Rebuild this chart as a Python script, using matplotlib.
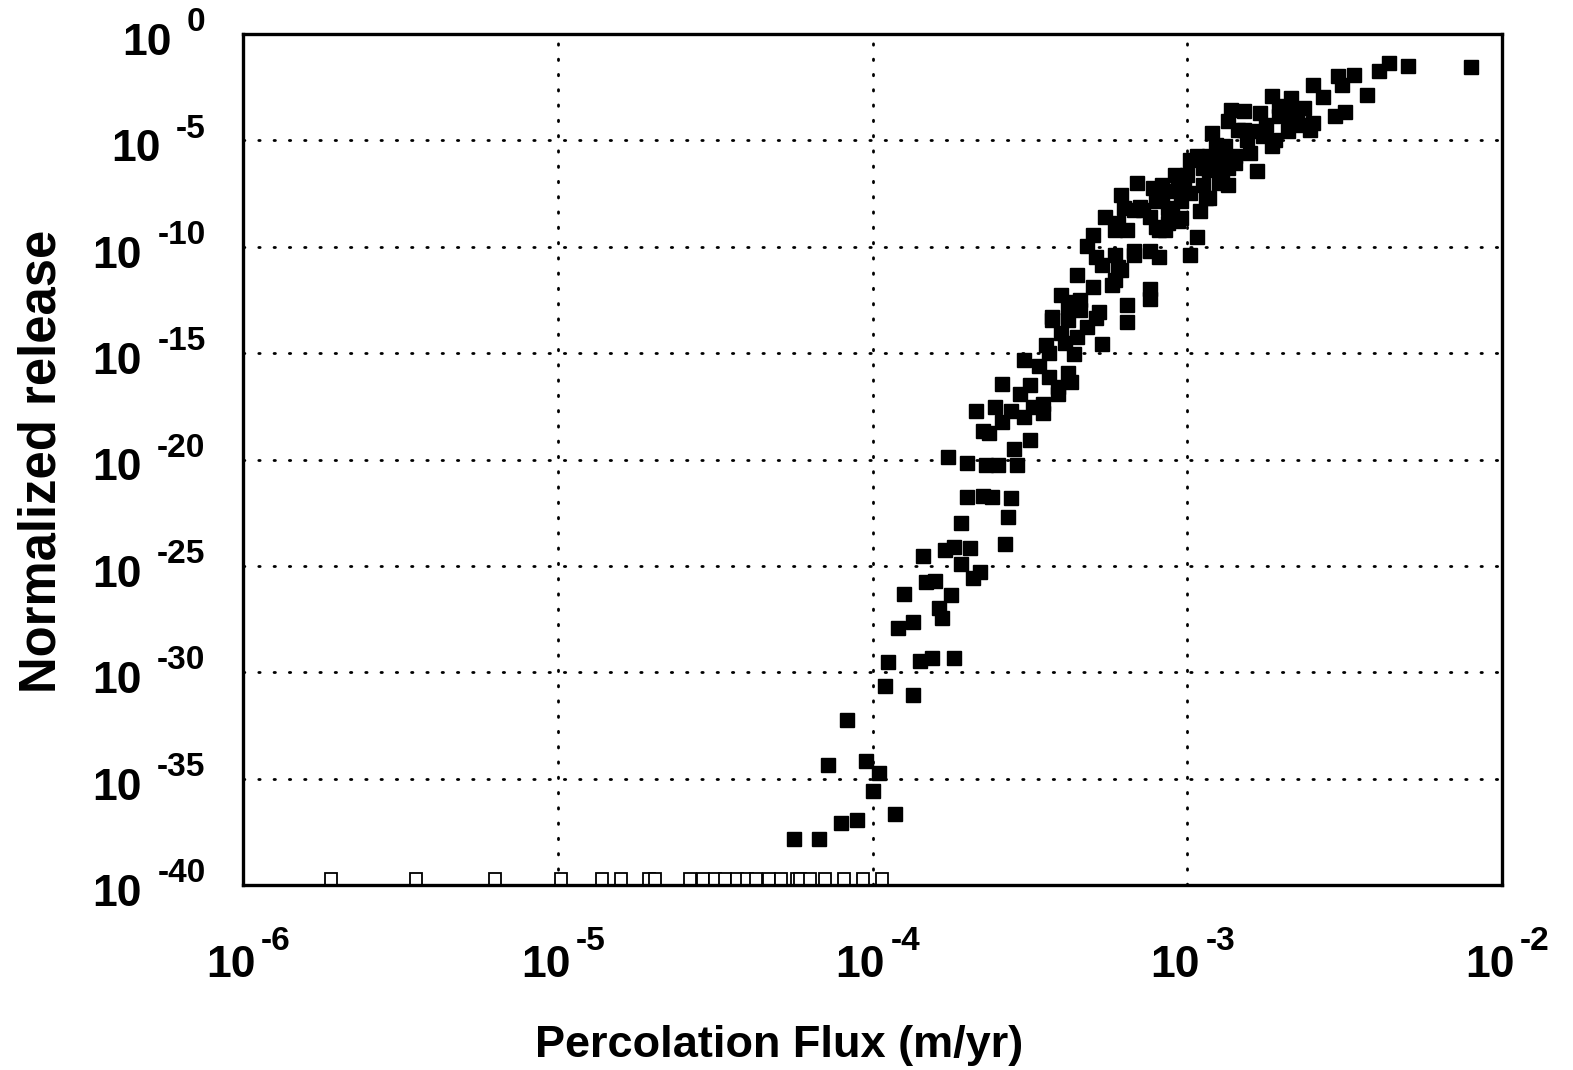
import matplotlib
matplotlib.use("Agg")
import matplotlib.pyplot as plt
import numpy as np

# values, as log10
# filled squares: runs with a release
flux_log = [
    -4.25, -4.17, -4.10, -4.05, -3.93, -4.00, -3.98, -4.02, -4.14, -4.08,
    -3.96, -3.87, -3.95, -3.85, -3.81, -3.74, -3.92, -3.87, -3.79, -3.78,
    -3.90, -3.75, -3.83, -3.80, -3.68, -3.66, -3.72, -3.84, -3.77, -3.74,
    -3.69, -3.58, -3.72, -3.57, -3.70, -3.65, -3.62, -3.56, -3.76, -3.70,
    -3.64, -3.60, -3.54, -3.55, -3.50, -3.65, -3.63, -3.59, -3.52, -3.67,
    -3.61, -3.56, -3.46, -3.49, -3.46, -3.59, -3.50, -3.53, -3.44, -3.38,
    -3.37, -3.41, -3.41, -3.52, -3.47, -3.36, -3.44, -3.45, -3.39, -3.40,
    -3.35, -3.43, -3.32, -3.27, -3.19, -3.29, -3.19, -3.28, -3.34, -3.38,
    -3.34, -3.36, -3.40, -3.30, -3.24, -3.35, -3.21, -3.29, -3.23, -3.17,
    -3.43, -3.12, -3.12, -3.23, -3.32, -3.22, -3.17, -3.12, -3.09, -3.26,
    -3.22, -3.23, -3.19, -3.10, -3.20, -3.15, -3.12, -3.10, -3.16, -3.11,
    -2.97, -2.99, -3.08, -3.06, -3.03, -3.07, -3.14, -3.04, -3.01, -2.94,
    -2.96, -2.95, -3.00, -3.04, -2.95, -2.89, -2.87, -2.91, -2.97, -2.85,
    -2.80, -2.78, -2.73, -2.92, -2.87, -2.82, -2.76, -2.72, -2.68, -2.65,
    -2.73, -2.82, -2.77, -2.71, -2.84, -2.88, -2.87, -2.93, -3.03, -2.90,
    -2.99, -2.93, -3.02, -3.05, -3.02, -3.06, -3.09, -3.17, -2.10, -2.30,
    -2.36, -2.39, -2.47, -2.52, -2.51, -2.43, -2.60, -2.57, -2.53, -2.50,
    -2.67, -2.69, -2.67, -2.61, -2.64, -2.78, -2.89, -2.85, -2.93, -2.63,
    -2.71, -2.60, -3.08, -2.99, -2.91, -2.81, -3.21, -3.30, -3.27, -3.38,
    -2.86, -2.75, -2.65,
]
release_log = [
    -37.83, -37.83, -37.09, -36.93, -36.65, -35.59, -34.74, -34.18, -34.35, -32.23,
    -30.65, -31.08, -29.52, -29.48, -29.33, -29.33, -27.90, -27.66, -27.00, -27.43,
    -26.30, -26.38, -25.78, -25.72, -25.55, -25.28, -24.89, -24.54, -24.26, -24.11,
    -24.17, -23.98, -23.00, -22.71, -21.75, -21.72, -21.75, -21.83, -19.87, -20.18,
    -20.24, -20.24, -20.24, -19.51, -19.10, -18.66, -18.76, -18.22, -17.99, -17.74,
    -17.52, -17.70, -17.39, -17.53, -17.83, -16.45, -16.50, -16.90, -16.11, -15.95,
    -16.36, -16.58, -16.92, -15.32, -15.59, -15.04, -14.97, -14.61, -14.53, -14.06,
    -14.25, -13.45, -13.75, -14.55, -13.52, -13.36, -12.73, -13.05, -12.97, -12.85,
    -12.50, -12.58, -12.26, -11.87, -11.79, -11.34, -11.08, -10.46, -10.38, -10.38,
    -13.28, -11.98, -12.45, -11.56, -9.96, -10.93, -10.22, -10.22, -10.46, -8.60,
    -8.89, -9.20, -9.20, -9.05, -8.18, -8.11, -8.58, -7.87, -7.00, -7.24,
    -9.52, -10.38, -7.71, -8.18, -8.81, -9.20, -8.26, -7.40, -7.24, -7.71,
    -8.34, -7.08, -6.61, -6.61, -6.30, -6.61, -7.08, -5.99, -5.75, -5.75,
    -5.59, -6.43, -5.28, -4.65, -4.11, -4.50, -4.81, -4.97, -4.58, -4.18,
    -2.93, -3.64, -3.71, -3.87, -4.50, -5.28, -6.30, -6.38, -6.77, -7.00,
    -7.48, -7.71, -7.87, -8.26, -8.65, -8.89, -9.20, -8.26, -1.55, -1.50,
    -1.34, -1.75, -1.91, -1.96, -2.38, -2.85, -2.38, -2.94, -3.83, -3.67,
    -3.00, -3.56, -4.03, -4.50, -4.26, -4.58, -5.59, -6.06, -5.75, -3.48,
    -3.40, -4.18, -7.08, -5.91, -5.20, -4.97, -7.56, -9.44, -10.85, -13.44,
    -3.56, -4.26, -3.56,
]

# open squares: runs with no release, drawn at the bottom of the scale
zero_flux_log = [
    -5.72, -5.45, -5.20, -4.99, -4.86, -4.80, -4.71, -4.69, -4.58, -4.54,
    -4.50, -4.47, -4.43, -4.40, -4.37, -4.33, -4.29, -4.24, -4.23, -4.20,
    -4.15, -4.09, -4.03, -3.97,
]
zero_release_log = -39.7

x_exps = [-6, -5, -4, -3, -2]
y_exps = [0, -5, -10, -15, -20, -25, -30, -35, -40]

plt.rcParams["font.family"] = ["Liberation Sans", "DejaVu Sans"]
plt.rcParams["font.weight"] = "bold"

fig = plt.figure(figsize=(15.73, 10.70), dpi=100)
ax = fig.add_axes([0.1545, 0.1729, 0.8004, 0.7953])

x = 10.0 ** np.array(flux_log)
y = 10.0 ** np.array(release_log)
ax.plot(x, y, "s", color="black", markersize=9.5, linestyle="none",
        zorder=3)
zx = 10.0 ** np.array(zero_flux_log)
zy = np.full(len(zx), 10.0 ** zero_release_log)
ax.plot(zx, zy, "s", markerfacecolor="white", markeredgecolor="black",
        markeredgewidth=1.3, markersize=8.8, linestyle="none", zorder=4,
        clip_on=False)

ax.set_xscale("log")
ax.set_yscale("log")
ax.set_xlim(10.0 ** x_exps[0], 10.0 ** x_exps[-1])
ax.set_ylim(10.0 ** y_exps[-1], 10.0 ** y_exps[0])
ax.set_xticks([10.0 ** e for e in x_exps])
ax.set_yticks([10.0 ** e for e in y_exps])
ax.minorticks_off()
ax.tick_params(axis="both", length=0, labelbottom=False, labelleft=False)

# tick labels drawn as "10" plus a small raised exponent, like the original
for e in y_exps:
    exp_txt = ax.annotate("%d" % e, xy=(0, 10.0 ** e),
                          xycoords=("axes fraction", "data"),
                          xytext=(-27, 2), textcoords="offset points",
                          ha="right", va="baseline", fontsize=24,
                          annotation_clip=False)
    ax.annotate("10", xy=(0, 0), xycoords=exp_txt, xytext=(-11, -12),
                textcoords="offset points", ha="right", va="baseline",
                fontsize=32, annotation_clip=False)
for e in x_exps:
    ax.annotate("10", xy=(10.0 ** e, 0), xycoords=("data", "axes fraction"),
                xytext=(9, -66), textcoords="offset points", ha="right",
                va="baseline", fontsize=32, annotation_clip=False)
    ax.annotate("%d" % e, xy=(10.0 ** e, 0),
                xycoords=("data", "axes fraction"), xytext=(13, -47),
                textcoords="offset points", ha="left", va="baseline",
                fontsize=24, annotation_clip=False)

ax.grid(True, color="black", linestyle=(0, (0.5, 5.0)), linewidth=2.0,
        dash_capstyle="round")
ax.set_axisbelow(True)
for s in ax.spines.values():
    s.set_linewidth(2.4)
    s.set_zorder(5)

fig.text(0.495, 0.0225, "Percolation Flux (m/yr)", ha="center",
         va="center", fontsize=32.5, fontweight="bold")
fig.text(0.027, 0.569, "Normalized release", ha="center", va="center",
         rotation=90, fontsize=36.5, fontweight="bold")

fig.savefig("out.png", dpi=100)
